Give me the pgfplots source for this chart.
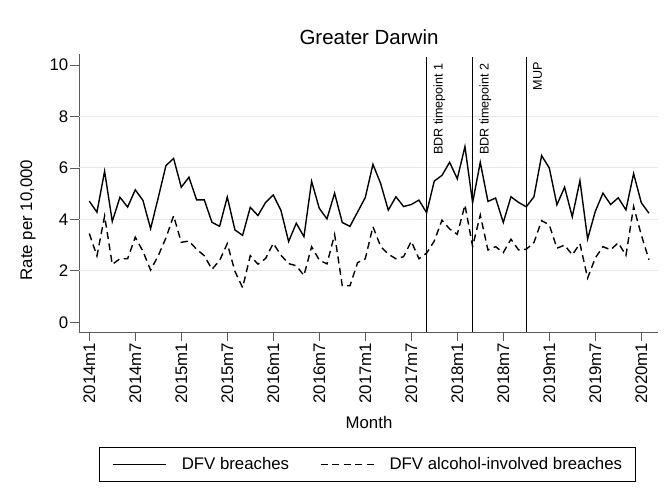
\documentclass[border=0pt]{standalone}
\usepackage{pgfplots}
\pgfplotsset{compat=1.18}
\usepackage{pgfplotstable}
\usepackage{fontspec}
\setmainfont{Liberation Sans}
\definecolor{gridc}{RGB}{226,234,238}
\definecolor{axc}{RGB}{90,90,90}

\pgfplotstableread{
i dfv alc
0 4.71 3.45
1 4.28 2.58
2 5.87 4.13
3 3.92 2.25
4 4.86 2.47
5 4.48 2.47
6 5.15 3.31
7 4.74 2.76
8 3.64 2.03
9 4.85 2.59
10 6.09 3.28
11 6.37 4.14
12 5.25 3.11
13 5.64 3.16
14 4.76 2.84
15 4.76 2.59
16 3.89 2.06
17 3.73 2.40
18 4.87 3.06
19 3.59 1.98
20 3.38 1.35
21 4.47 2.59
22 4.15 2.26
23 4.66 2.48
24 4.95 3.07
25 4.35 2.61
26 3.14 2.28
27 3.85 2.20
28 3.33 1.82
29 5.48 2.94
30 4.43 2.42
31 4.02 2.27
32 5.02 3.41
33 3.88 1.42
34 3.73 1.42
35 4.29 2.32
36 4.85 2.47
37 6.14 3.72
38 5.40 2.95
39 4.36 2.65
40 4.88 2.47
41 4.50 2.55
42 4.58 3.15
43 4.75 2.47
44 4.26 2.69
45 5.49 3.16
46 5.71 3.97
47 6.22 3.63
48 5.58 3.42
49 6.83 4.56
50 4.65 2.95
51 6.22 4.17
52 4.70 2.81
53 4.83 2.94
54 3.88 2.71
55 4.88 3.23
56 4.66 2.81
57 4.49 2.84
58 4.88 3.10
59 6.48 3.95
60 6.00 3.79
61 4.57 2.88
62 5.25 3.00
63 4.10 2.62
64 5.51 3.06
65 3.24 1.72
66 4.31 2.50
67 5.02 2.94
68 4.58 2.82
69 4.84 3.09
70 4.37 2.60
71 5.78 4.50
72 4.65 3.40
73 4.24 2.43
}\datatable

\begin{document}
\begin{tikzpicture}[x=1pt,y=1pt]
\useasboundingbox (-79,-160) rectangle (591,332);
\begin{axis}[
  at={(0,0)}, anchor=south west,
  scale only axis, width=579pt, height=278pt,
  xmin=-1.34, xmax=74.18, ymin=-0.377, ymax=10.43,
  axis x line*=bottom, axis y line*=left,
  axis line style={axc, line width=0.9pt},
  tick align=outside,
  major tick length=9pt,
  tick style={axc, line width=0.9pt},
  xtick={0,6,...,72},
  xticklabels={2014m1,2014m7,2015m1,2015m7,2016m1,2016m7,2017m1,2017m7,2018m1,2018m7,2019m1,2019m7,2020m1},
  x tick label style={rotate=90, anchor=east, inner sep=1.5pt, font=\fontsize{16.8}{18}\selectfont},
  ytick={0,2,...,10},
  yticklabels={0,2,4,6,8,10},
  y tick label style={anchor=east, inner sep=1.5pt, font=\fontsize{16.8}{18}\selectfont},
  extra y ticks={2,4,6,8},
  extra y tick labels={},
  extra y tick style={grid=major, major tick length=0pt, grid style={gridc, line width=1pt}},
  clip=false,
  legend columns=2,
  legend cell align=left,
  legend style={at={(rel axis cs:0.0345,-0.4137)}, anchor=north west,
    draw=black, line width=0.8pt, inner xsep=13pt, inner ysep=10pt,
    font=\fontsize{16.8}{18}\selectfont,
    nodes={inner sep=0pt},
    /tikz/every odd column/.append style={column sep=15pt},
    /tikz/every even column/.append style={column sep=31pt}},
  legend image code/.code={\draw[#1] (0pt,0pt) -- (53pt,0pt);},
]
\addplot[black, line width=1.4pt] table[x=i, y=dfv] {\datatable};
\addlegendentry{DFV breaches}
\addplot[black, line width=1.4pt, dash pattern=on 7pt off 4.5pt] table[x=i, y=alc] {\datatable};
\addlegendentry{DFV alcohol-involved breaches}
\addplot[black, line width=1.4pt, forget plot] coordinates {(44,-0.377) (44,10.3)};
\addplot[black, line width=1.4pt, forget plot] coordinates {(50,-0.377) (50,10.3)};
\addplot[black, line width=1.4pt, forget plot] coordinates {(57,-0.377) (57,10.3)};
\path (axis cs:44,10.43) ++(6.8pt,-9pt) node[rotate=90, anchor=north east, inner sep=0pt, font=\fontsize{12.6}{14}\selectfont] {BDR timepoint 1};
\path (axis cs:50,10.43) ++(6.8pt,-9pt) node[rotate=90, anchor=north east, inner sep=0pt, font=\fontsize{12.6}{14}\selectfont] {BDR timepoint 2};
\path (axis cs:57,10.43) ++(6.8pt,-8pt) node[rotate=90, anchor=north east, inner sep=0pt, font=\fontsize{12.6}{14}\selectfont] {MUP};
\end{axis}
\node[font=\fontsize{20.5}{24}\selectfont] at (290,295) {Greater Darwin};
\node[font=\fontsize{16.8}{18}\selectfont] at (290,-90) {Month};
\node[rotate=90, font=\fontsize{16.8}{18}\selectfont] at (-51,112) {Rate per 10,000};
\end{tikzpicture}
\end{document}
